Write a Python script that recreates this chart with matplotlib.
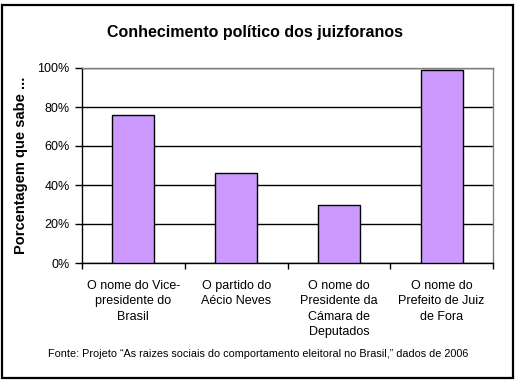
import matplotlib
matplotlib.use("Agg")
import matplotlib.pyplot as plt
from matplotlib.patches import Rectangle
from matplotlib.ticker import FixedLocator, FuncFormatter

categories = [
    "O nome do Vice-\npresidente do\nBrasil",
    "O partido do\nAécio Neves",
    "O nome do\nPresidente da\nCámara de\nDeputados",
    "O nome do\nPrefeito de Juiz\nde Fora",
]
values = [0.76, 0.46, 0.30, 0.99]
yticks = [0, 0.2, 0.4, 0.6, 0.8, 1.0]
title = "Conhecimento político dos juizforanos"
ylabel = "Porcentagem que sabe ..."
source = "Fonte: Projeto “As raizes sociais do comportamento eleitoral no Brasil,” dados de 2006"

plt.rcParams['font.family'] = ['Liberation Sans', 'DejaVu Sans']

W, H = 516, 383
fig = plt.figure(figsize=(W / 100, H / 100), dpi=100)
fig.patch.set_facecolor("white")

ax = fig.add_axes([82 / W, 1 - 263 / H, (493 - 82) / W, (263 - 68) / H])
x = list(range(len(categories)))
ax.bar(x, values, width=0.41, color="#CC99FF", edgecolor="black", linewidth=1.0, zorder=3)
ax.set_xlim(-0.5, len(categories) - 0.5)
ax.set_ylim(0, 1.0)

ax.yaxis.set_major_locator(FixedLocator(yticks))
ax.yaxis.set_major_formatter(FuncFormatter(lambda v, p: f"{v*100:.0f}%"))
ax.tick_params(axis="y", direction="out", length=5, width=1, labelsize=9, pad=4, color="black")
ax.grid(axis="y", color="black", linewidth=1, zorder=1)
ax.set_axisbelow(True)

ax.set_xticks(x)
ax.set_xticklabels(categories, fontsize=9, linespacing=1.4, va="top")
ax.tick_params(axis="x", length=0, pad=12)
# boundary ticks on x axis
ax.set_xticks([i - 0.5 for i in range(len(categories) + 1)], minor=True)
ax.tick_params(axis="x", which="minor", direction="out", length=4, width=1, color="black")

for s in ["top", "right"]:
    ax.spines[s].set_color("#808080")
    ax.spines[s].set_linewidth(1)
for s in ["left", "bottom"]:
    ax.spines[s].set_color("black")
    ax.spines[s].set_linewidth(1)

ax.set_ylabel(ylabel, fontsize=10.5, fontweight="bold")
ax.yaxis.set_label_coords(-(82 - 28) / (493 - 82), 0.5)

fig.text(255 / W, 1 - 33 / H, title, fontsize=11.5, fontweight="bold", ha="center", va="center")
fig.text(258 / W, 1 - 354 / H, source, fontsize=7.8, ha="center", va="center")

fig.patches.append(Rectangle((1.5 / W, 1 - 378 / H), (513 - 1.5) / W, (378 - 4.5) / H,
                             transform=fig.transFigure, fill=False, edgecolor="black",
                             linewidth=1.6, zorder=10))

fig.savefig("out.png", dpi=100)
